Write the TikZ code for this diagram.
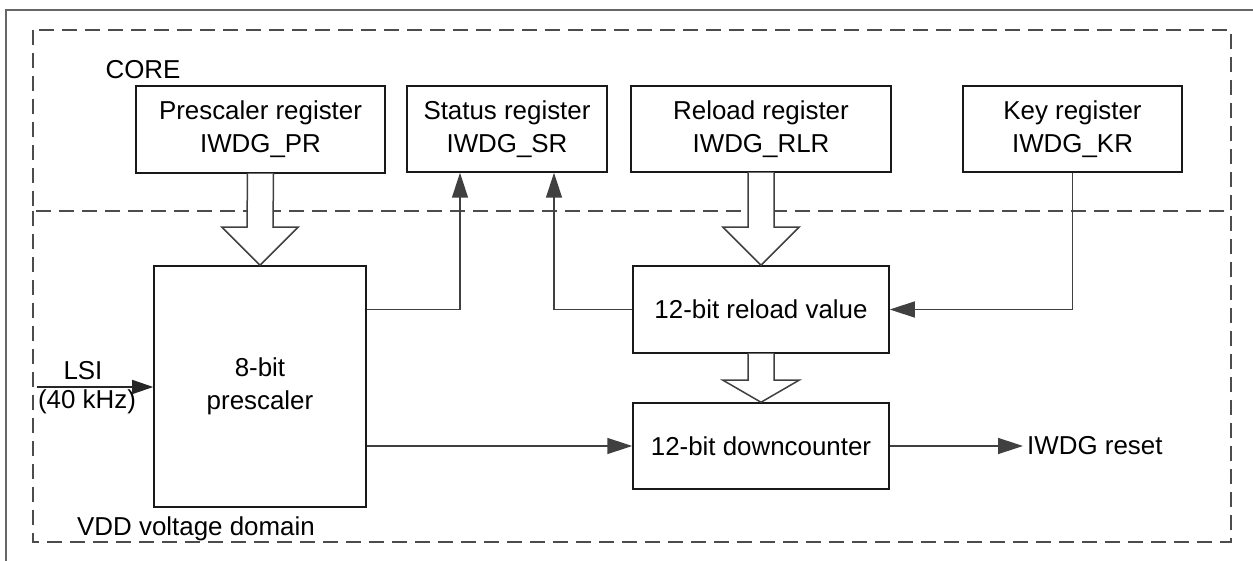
\documentclass[tikz,border=0pt]{standalone}
\usepackage{fontspec}
\setmainfont{Liberation Sans}
\usetikzlibrary{arrows.meta,calc}
\newcommand\hollowarr[3]{%
  \draw[hollowstyle] ($(#1)+(-13,0)$) -- ($(#2)+(-13,-#3)$) -- ($(#2)+(-38,-#3)$) -- (#2)
    -- ($(#2)+(38,-#3)$) -- ($(#2)+(13,-#3)$) -- ($(#1)+(13,0)$);}
\begin{document}
\begin{tikzpicture}[x=1bp,y=-1bp,
  every node/.style={font=\fontsize{26}{33}\selectfont, text=black},
  box/.style={draw=black!90, line width=1.5bp, align=center, inner sep=0pt},
  conn/.style={draw=black!75, line width=1.5bp, -{Triangle[length=25bp,width=16bp]}, fill=none},
  lsiarr/.style={draw=black!85, line width=1.5bp, -{Triangle[length=21bp,width=14bp]}},
  hollowstyle/.style={draw=black!75, line width=1.5bp, fill=white, line join=miter},
  dashbox/.style={draw=black!70, line width=1.5bp, dash pattern=on 15bp off 8bp},
  frame/.style={draw=black!60, line width=2bp},
  lbl/.style={inner sep=0pt}]
\useasboundingbox (0,0) rectangle (1253,561);
% outer frame
\draw[frame] (6,561) -- (6,10) -- (1253,10);
% domains
\draw[dashbox] (33,30) rectangle (1231,211);
\draw[dashbox] (33,211) -- (33,542) -- (1231,542) -- (1231,211);
\node[lbl] (core) at (143,70) {CORE};
\node[lbl] (vdd) at (196,529) {VDD voltage domain};
% registers
\node[box, minimum width=249bp, minimum height=87bp] (pr) at (260.5,129.5) {Prescaler register\\IWDG\_PR};
\node[box, minimum width=200bp, minimum height=86bp] (sr) at (507,129) {Status register\\IWDG\_SR};
\node[box, minimum width=260bp, minimum height=86bp] (rlr) at (761,129) {Reload register\\IWDG\_RLR};
\node[box, minimum width=219bp, minimum height=86bp] (kr) at (1072.5,129) {Key register\\IWDG\_KR};
% lower blocks
\node[box, minimum width=212bp, minimum height=241bp] (presc) at (260,386.5) {8-bit\\prescaler};
\node[box, minimum width=256bp, minimum height=87bp] (relv) at (761,309.5) {12-bit reload value};
\node[box, minimum width=256bp, minimum height=86bp] (dc) at (761,446) {12-bit downcounter};
\node[lbl, anchor=west] (rst) at (1027,446) {IWDG reset};
% LSI input
\coordinate (lsi) at (37,387);
\node[lbl] (lsitxt) at (83,371) {LSI};
\node[lbl] (lsifreq) at (87,402) {(40 kHz)};
\draw[lsiarr] (lsi) -- (presc.west |- lsi);
% hollow bus arrows
\hollowarr{pr.south}{presc.north}{38}
\hollowarr{rlr.south}{relv.north}{38}
\hollowarr{relv.south}{dc.north}{22}
% connectors
\draw[conn] (presc.east |- relv.west) -| ($(sr.south)+(-47,0)$);
\draw[conn] (relv.west) -| ($(sr.south)+(47,0)$);
\draw[conn] (kr.south) |- (relv.east);
\draw[conn] (presc.east |- dc.west) -- (dc.west);
\draw[conn] (dc.east) -- ($(rst.west)+(-4,0)$);
\end{tikzpicture}
\end{document}
